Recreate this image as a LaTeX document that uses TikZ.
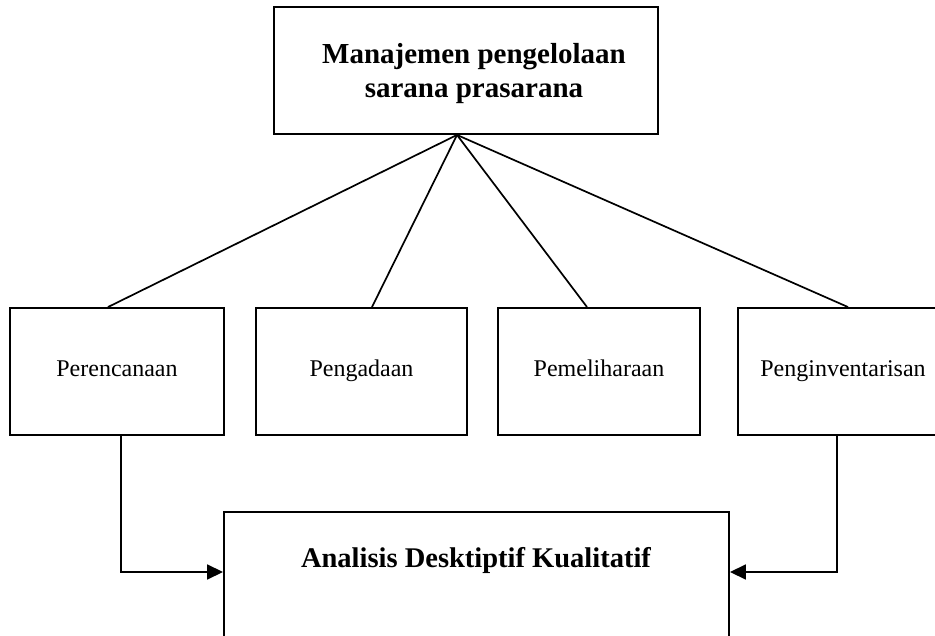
\documentclass[tikz,border=0pt]{standalone}
\usepackage{fontspec}
\setmainfont{Liberation Serif}
\usetikzlibrary{arrows.meta}
\begin{document}
\begin{tikzpicture}[x=1pt,y=-1pt,
  box/.style={draw, line width=1.9pt, rectangle, inner sep=0pt, minimum height=127pt,
    text height=16pt, text depth=5pt, font=\fontsize{24}{28}\selectfont},
  bigbox/.style={draw, line width=1.9pt, rectangle, inner sep=0pt},
  bigtext/.style={font=\bfseries\fontsize{29}{34}\selectfont, align=center, inner sep=0pt},
  conn/.style={line width=1.7pt},
  arr/.style={line width=1.7pt, -{Triangle[length=16pt,width=15pt]}}]
\useasboundingbox (0,0) rectangle (935,636);
\clip (0,0) rectangle (935,636);
% top box
\node[bigbox, minimum width=384pt, minimum height=127pt] (top) at (466,70.5) {};
\node[bigtext, anchor=base] (toptext) at (474,98) {Manajemen pengelolaan\\sarana prasarana};
% four boxes
\node[box, minimum width=214pt] (per) at (117,371.5) {Perencanaan};
\node[box, minimum width=211pt] (peng) at (361.5,371.5) {Pengadaan};
\node[box, minimum width=202pt] (pem) at (599,371.5) {Pemeliharaan};
\node[box, minimum width=210pt] (inv) at (843,371.5) {Penginventarisan};
% bottom box
\node[bigbox, minimum width=505pt, minimum height=148pt] (ana) at (476.5,586) {};
\node[bigtext, font=\bfseries\fontsize{28.5}{34}\selectfont, anchor=base] (anatext) at (476,567) {Analisis Desktiptif Kualitatif};
% connectors
\draw[conn] ([xshift=-9pt]top.south) -- ([xshift=-9pt]per.north);
\draw[conn] ([xshift=-9pt]top.south) -- ([xshift=10.5pt]peng.north);
\draw[conn] ([xshift=-9pt]top.south) -- ([xshift=-12pt]pem.north);
\draw[conn] ([xshift=-9pt]top.south) -- ([xshift=5pt]inv.north);
\draw[arr] ([xshift=4pt]per.south) |- ([yshift=14pt]ana.west);
\draw[arr] ([xshift=-6pt]inv.south) |- ([yshift=14pt]ana.east);
\end{tikzpicture}
\end{document}
